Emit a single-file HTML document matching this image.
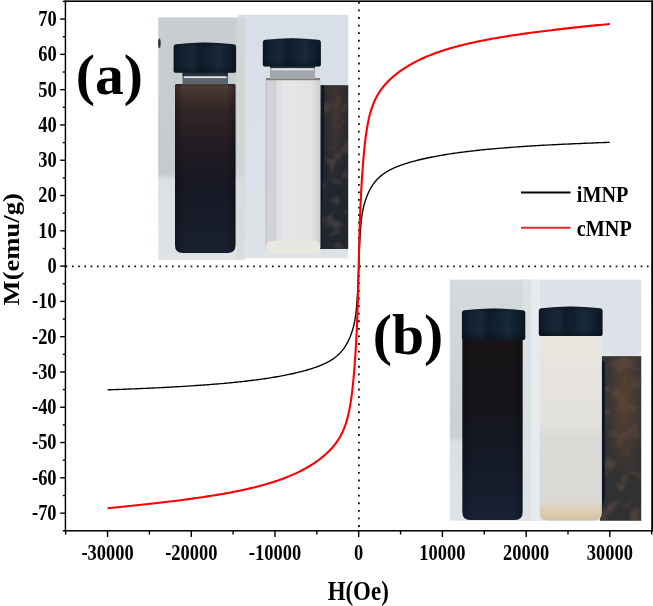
<!DOCTYPE html>
<html><head><meta charset="utf-8"><style>
html,body{margin:0;padding:0;background:#fff;}
svg{display:block;filter:blur(0.35px);}
</style></head><body>
<svg width="653" height="606" viewBox="0 0 653 606">
<rect width="653" height="606" fill="#fff"/>
<defs>
<linearGradient id="bgA1" x1="0" y1="0" x2="0" y2="1">
<stop offset="0" stop-color="#c9ced0"/><stop offset="0.645" stop-color="#c5cacc"/><stop offset="0.67" stop-color="#dcdfe3"/><stop offset="1" stop-color="#e0e3e6"/>
</linearGradient>
<linearGradient id="bgA2" x1="0" y1="0" x2="0" y2="1">
<stop offset="0" stop-color="#d9dfe7"/><stop offset="0.7" stop-color="#dbe1e8"/><stop offset="1" stop-color="#dfe3e8"/>
</linearGradient>
<linearGradient id="vialA" x1="0" y1="0" x2="0" y2="1">
<stop offset="0" stop-color="#342622"/><stop offset="0.015" stop-color="#4e3c35"/><stop offset="0.05" stop-color="#45342e"/><stop offset="0.15" stop-color="#332628"/><stop offset="0.35" stop-color="#231c22"/><stop offset="0.6" stop-color="#171824"/><stop offset="1" stop-color="#19202e"/>
</linearGradient>
<linearGradient id="edgeH" x1="0" y1="0" x2="1" y2="0">
<stop offset="0" stop-color="#000" stop-opacity="0.3"/><stop offset="0.15" stop-color="#000" stop-opacity="0"/><stop offset="0.85" stop-color="#000" stop-opacity="0"/><stop offset="1" stop-color="#000" stop-opacity="0.3"/>
</linearGradient>
<linearGradient id="clearA" x1="0" y1="0" x2="1" y2="0">
<stop offset="0" stop-color="#c4c4c8"/><stop offset="0.05" stop-color="#d2d2d6"/><stop offset="0.15" stop-color="#d4d4d8"/><stop offset="0.17" stop-color="#c6c6ca"/><stop offset="0.2" stop-color="#dcdcdf"/><stop offset="0.35" stop-color="#e6e6e8"/><stop offset="0.85" stop-color="#e2e2e4"/><stop offset="1" stop-color="#cdcdd0"/>
</linearGradient>
<linearGradient id="bgB1" x1="0" y1="0" x2="0" y2="1">
<stop offset="0" stop-color="#d5dadc"/><stop offset="0.65" stop-color="#cbd0d3"/><stop offset="0.675" stop-color="#dce0e3"/><stop offset="1" stop-color="#e0e3e6"/>
</linearGradient>
<linearGradient id="bgB2" x1="0" y1="0" x2="0" y2="1">
<stop offset="0" stop-color="#dde2ea"/><stop offset="1" stop-color="#e0e4ea"/>
</linearGradient>
<linearGradient id="vialB" x1="0" y1="0" x2="0" y2="1">
<stop offset="0" stop-color="#181416"/><stop offset="0.35" stop-color="#151419"/><stop offset="0.7" stop-color="#141a28"/><stop offset="1" stop-color="#182234"/>
</linearGradient>
<linearGradient id="milkB" x1="0" y1="0" x2="0" y2="1">
<stop offset="0" stop-color="#e8e6df"/><stop offset="0.5" stop-color="#e3e1db"/><stop offset="0.56" stop-color="#dadad7"/><stop offset="0.9" stop-color="#d9d8d4"/><stop offset="0.94" stop-color="#ddd0b8"/><stop offset="1" stop-color="#d4c0a0"/>
</linearGradient>
<linearGradient id="magA" x1="0" y1="0" x2="1" y2="0">
<stop offset="0" stop-color="#131a2c"/><stop offset="0.15" stop-color="#1f2431"/><stop offset="0.5" stop-color="#2a2c33"/><stop offset="1" stop-color="#2c2d33"/>
</linearGradient>
<linearGradient id="magB" x1="0" y1="0" x2="1" y2="0">
<stop offset="0" stop-color="#141b2e"/><stop offset="0.12" stop-color="#272a34"/><stop offset="0.5" stop-color="#38322f"/><stop offset="1" stop-color="#33302f"/>
</linearGradient>
<radialGradient id="rustA" cx="0.6" cy="0.15" r="0.5">
<stop offset="0" stop-color="#5e4634" stop-opacity="0.55"/><stop offset="1" stop-color="#5e4634" stop-opacity="0"/>
</radialGradient>
<radialGradient id="rustB" cx="0.6" cy="0.25" r="0.55">
<stop offset="0" stop-color="#6a4a34" stop-opacity="0.7"/><stop offset="1" stop-color="#6a4a34" stop-opacity="0.1"/>
</radialGradient>
<linearGradient id="capG" x1="0" y1="0" x2="1" y2="0">
<stop offset="0" stop-color="#0c1622"/><stop offset="0.12" stop-color="#122030"/><stop offset="0.3" stop-color="#172838"/><stop offset="0.42" stop-color="#0f1c2a"/><stop offset="0.55" stop-color="#112030"/><stop offset="0.72" stop-color="#182a3a"/><stop offset="0.88" stop-color="#111e2d"/><stop offset="1" stop-color="#0c1622"/>
</linearGradient>
<linearGradient id="capV" x1="0" y1="0" x2="0" y2="1">
<stop offset="0" stop-color="#000" stop-opacity="0.25"/><stop offset="0.15" stop-color="#000" stop-opacity="0"/><stop offset="0.75" stop-color="#000" stop-opacity="0"/><stop offset="1" stop-color="#000" stop-opacity="0.3"/>
</linearGradient>
<filter id="tex" x="0" y="0" width="1" height="1">
<feTurbulence type="fractalNoise" baseFrequency="0.07" numOctaves="2" seed="5" result="n"/>
<feColorMatrix in="n" type="matrix" values="0 0 0 0 0.30  0 0 0 0 0.22  0 0 0 0 0.17  0 0 0 0.45 -0.22" result="c"/>
<feComposite in="c" in2="SourceGraphic" operator="in" result="m"/>
<feMerge><feMergeNode in="SourceGraphic"/><feMergeNode in="m"/></feMerge>
</filter>
</defs>
<!-- photo (a) right part -->
<rect x="238.4" y="14.8" width="109.8" height="243.5" fill="url(#bgA2)"/>
<rect x="317" y="85.2" width="31.2" height="163.8" fill="#23272e" filter="url(#tex)"/>
<rect x="317" y="85.2" width="31.2" height="163.8" fill="url(#rustA)"/>
<path d="M321.5,85.2 L324.5,85.2 L324,140 L322.5,200 L321.5,249 L316.5,249 L317,225 L319.5,160 Z" fill="#111829"/>
<path d="M265.3,79.5 Q265.3,78 266.8,78 H319.0 Q320.5,78 320.5,79.5 V247 Q320.5,254 313.5,254 H272.3 Q265.3,254 265.3,247 Z" fill="url(#clearA)"/>
<rect x="266" y="241" width="54" height="13" rx="5" fill="#e9e7e2"/>
<rect x="266" y="78" width="54" height="2.2" fill="#8c7a70"/>
<rect x="270" y="64" width="45" height="15" fill="#a2a7ad"/>
<rect x="270" y="64" width="45" height="4" fill="#2a3440"/>
<rect x="271.5" y="68.5" width="42" height="1.8" fill="#e4e6e8"/>
<path d="M262.8,42.8 Q262.8,39.8 265.8,39.8 Q291.85,36.599999999999994 317.9,39.8 Q320.9,39.8 320.9,42.8 V64.4 Q320.9,66.4 318.9,66.4 H264.8 Q262.8,66.4 262.8,64.4 Z" fill="url(#capG)"/><path d="M262.8,42.8 Q262.8,39.8 265.8,39.8 Q291.85,36.599999999999994 317.9,39.8 Q320.9,39.8 320.9,42.8 V64.4 Q320.9,66.4 318.9,66.4 H264.8 Q262.8,66.4 262.8,64.4 Z" fill="url(#capV)"/>
<!-- photo (a) left part -->
<rect x="158.2" y="17.4" width="86.6" height="242.5" fill="url(#bgA1)"/>
<rect x="236.5" y="17.4" width="8.3" height="242.5" fill="#d6dadc" opacity="0.7"/>
<ellipse cx="159.4" cy="43.2" rx="1.3" ry="4.8" fill="#2e3236"/>
<path d="M175,85.5 Q175,84 176.5,84 H234.0 Q235.5,84 235.5,85.5 V245 Q235.5,253 227.5,253 H183 Q175,253 175,245 Z" fill="url(#vialA)"/>
<path d="M175,85.5 Q175,84 176.5,84 H234.0 Q235.5,84 235.5,85.5 V245 Q235.5,253 227.5,253 H183 Q175,253 175,245 Z" fill="url(#edgeH)"/>
<rect x="182.5" y="72" width="45.5" height="12.5" fill="#5c636b"/>
<rect x="182.5" y="72" width="45.5" height="4" fill="#26303a"/>
<rect x="184" y="76.3" width="42.5" height="1.8" fill="#e0e2e4"/>
<path d="M173.6,47.2 Q173.6,44.2 176.6,44.2 Q204.85,41.0 233.1,44.2 Q236.1,44.2 236.1,47.2 V70.8 Q236.1,72.8 234.1,72.8 H175.6 Q173.6,72.8 173.6,70.8 Z" fill="url(#capG)"/><path d="M173.6,47.2 Q173.6,44.2 176.6,44.2 Q204.85,41.0 233.1,44.2 Q236.1,44.2 236.1,47.2 V70.8 Q236.1,72.8 234.1,72.8 H175.6 Q173.6,72.8 173.6,70.8 Z" fill="url(#capV)"/>
<!-- photo (b) right part -->
<rect x="531" y="279.7" width="110.2" height="241" fill="url(#bgB2)"/>
<rect x="531" y="279.7" width="9" height="241" fill="#e7ebef"/>
<rect x="600" y="356.2" width="41.2" height="164.5" fill="#2c2e33" filter="url(#tex)"/>
<rect x="600" y="356.2" width="41.2" height="164.5" fill="url(#rustB)"/>
<path d="M600,360 L605,362 L605,500 L602,508 L600,508 Z" fill="#101729"/>
<path d="M539.7,338 Q539.7,331 546.7,331 H594.9 Q601.9,331 601.9,338 V512.5 Q601.9,520.5 593.9,520.5 H547.7 Q539.7,520.5 539.7,512.5 Z" fill="url(#milkB)"/>
<path d="M538.8,311.2 Q538.8,308.2 541.8,308.2 Q570.7,305.0 599.6,308.2 Q602.6,308.2 602.6,311.2 V334.0 Q602.6,336.0 600.6,336.0 H540.8 Q538.8,336.0 538.8,334.0 Z" fill="url(#capG)"/><path d="M538.8,311.2 Q538.8,308.2 541.8,308.2 Q570.7,305.0 599.6,308.2 Q602.6,308.2 602.6,311.2 V334.0 Q602.6,336.0 600.6,336.0 H540.8 Q538.8,336.0 538.8,334.0 Z" fill="url(#capV)"/>
<!-- photo (b) left part -->
<rect x="449.8" y="279.6" width="81.2" height="241.1" fill="url(#bgB1)"/>
<rect x="522.5" y="279.6" width="8.5" height="241.1" fill="#dde2e5" opacity="0.8"/>
<path d="M462.4,340 Q462.4,334 468.4,334 H516.6 Q522.6,334 522.6,340 V512 Q522.6,520 514.6,520 H470.4 Q462.4,520 462.4,512 Z" fill="url(#vialB)"/>
<path d="M462.4,340 Q462.4,334 468.4,334 H516.6 Q522.6,334 522.6,340 V512 Q522.6,520 514.6,520 H470.4 Q462.4,520 462.4,512 Z" fill="url(#edgeH)"/>
<path d="M461.9,313.2 Q461.9,310.2 464.9,310.2 Q493.59999999999997,307.0 522.3,310.2 Q525.3,310.2 525.3,313.2 V338.0 Q525.3,340.0 523.3,340.0 H463.9 Q461.9,340.0 461.9,338.0 Z" fill="url(#capG)"/><path d="M461.9,313.2 Q461.9,310.2 464.9,310.2 Q493.59999999999997,307.0 522.3,310.2 Q525.3,310.2 525.3,313.2 V338.0 Q525.3,340.0 523.3,340.0 H463.9 Q461.9,340.0 461.9,338.0 Z" fill="url(#capV)"/>

<line x1="65.7" y1="266.4" x2="651" y2="266.4" stroke="#000" stroke-width="1.7" stroke-dasharray="1.6 4.65"/>
<line x1="358.9" y1="1.92" x2="358.9" y2="530" stroke="#000" stroke-width="1.7" stroke-dasharray="1.8 5.782"/>
<path d="M107.54,389.88 L110.05,389.79 L112.54,389.70 L115.02,389.60 L117.49,389.51 L119.93,389.42 L122.37,389.32 L124.79,389.23 L127.19,389.13 L129.58,389.04 L131.95,388.94 L134.31,388.84 L136.66,388.74 L138.99,388.64 L141.30,388.54 L143.60,388.44 L145.89,388.34 L148.16,388.23 L150.42,388.13 L152.66,388.02 L154.89,387.92 L157.10,387.81 L159.30,387.70 L161.48,387.59 L163.65,387.48 L165.81,387.37 L167.95,387.25 L170.08,387.14 L172.19,387.03 L174.29,386.91 L176.37,386.79 L178.44,386.67 L180.49,386.55 L182.54,386.43 L184.56,386.31 L186.58,386.18 L188.57,386.06 L190.56,385.93 L192.53,385.80 L194.49,385.67 L196.43,385.54 L198.36,385.41 L200.28,385.28 L202.18,385.14 L204.07,385.00 L205.94,384.86 L207.80,384.72 L209.65,384.58 L211.48,384.44 L213.30,384.29 L215.11,384.15 L216.90,384.00 L218.68,383.85 L220.45,383.70 L222.20,383.55 L223.94,383.39 L225.66,383.23 L227.37,383.08 L229.07,382.92 L230.76,382.75 L232.43,382.59 L234.09,382.42 L235.74,382.26 L237.37,382.09 L238.99,381.92 L240.60,381.74 L242.19,381.57 L243.77,381.39 L245.34,381.21 L246.89,381.03 L248.44,380.85 L249.96,380.66 L251.48,380.48 L252.99,380.29 L254.48,380.10 L255.95,379.91 L257.42,379.71 L258.87,379.52 L260.31,379.32 L261.74,379.12 L263.16,378.92 L264.56,378.71 L265.95,378.51 L267.33,378.30 L268.69,378.09 L270.05,377.88 L271.39,377.66 L272.72,377.45 L274.03,377.23 L275.34,377.01 L276.63,376.79 L277.91,376.56 L279.18,376.34 L280.44,376.11 L281.68,375.88 L282.91,375.65 L284.13,375.41 L285.34,375.18 L286.54,374.94 L287.72,374.70 L288.90,374.46 L290.06,374.21 L291.21,373.97 L292.35,373.72 L293.47,373.47 L294.59,373.22 L295.69,372.96 L296.78,372.71 L297.86,372.45 L298.93,372.19 L299.99,371.92 L301.04,371.66 L302.07,371.39 L303.10,371.12 L304.11,370.85 L305.11,370.57 L306.10,370.30 L307.08,370.02 L308.05,369.73 L309.01,369.45 L309.95,369.16 L310.89,368.87 L311.81,368.58 L312.73,368.28 L313.63,367.98 L314.52,367.68 L315.40,367.37 L316.28,367.06 L317.14,366.75 L317.99,366.43 L318.83,366.11 L319.65,365.79 L320.47,365.46 L321.28,365.13 L322.08,364.79 L322.87,364.45 L323.64,364.11 L324.41,363.76 L325.17,363.40 L325.91,363.04 L326.65,362.67 L327.38,362.30 L328.09,361.92 L328.80,361.53 L329.50,361.14 L330.19,360.74 L330.86,360.34 L331.53,359.92 L332.19,359.50 L332.84,359.07 L333.47,358.64 L334.10,358.19 L334.72,357.74 L335.33,357.27 L335.93,356.80 L336.53,356.32 L337.11,355.83 L337.68,355.32 L338.24,354.81 L338.80,354.29 L339.34,353.75 L339.88,353.21 L340.41,352.65 L340.92,352.08 L341.43,351.50 L341.93,350.91 L342.43,350.31 L342.91,349.69 L343.38,349.06 L343.85,348.43 L344.31,347.78 L344.75,347.12 L345.19,346.44 L345.63,345.76 L346.05,345.06 L346.46,344.36 L346.87,343.64 L347.27,342.91 L347.66,342.17 L348.04,341.43 L348.41,340.67 L348.78,339.90 L349.14,339.12 L349.49,338.33 L349.83,337.53 L350.17,336.73 L350.49,335.91 L350.81,335.08 L351.12,334.24 L351.43,333.39 L351.72,332.53 L352.01,331.66 L352.30,330.78 L352.57,329.88 L352.84,328.96 L353.10,328.04 L353.35,327.09 L353.60,326.13 L353.84,325.14 L354.07,324.13 L354.30,323.10 L354.52,322.03 L354.73,320.94 L354.93,319.81 L355.13,318.64 L355.33,317.43 L355.51,316.18 L355.69,314.88 L355.87,313.52 L356.03,312.11 L356.20,310.65 L356.35,309.13 L356.50,307.55 L356.64,305.91 L356.78,304.22 L356.91,302.48 L357.04,300.70 L357.16,298.89 L357.28,297.04 L357.39,295.18 L357.49,293.32 L357.59,291.46 L357.69,289.62 L357.78,287.80 L357.86,286.03 L357.94,284.30 L358.02,282.64 L358.09,281.04 L358.15,279.52 L358.21,278.07 L358.27,276.71 L358.32,275.43 L358.37,274.24 L358.42,273.15 L358.46,272.14 L358.50,271.22 L358.53,270.38 L358.56,269.64 L358.59,268.97 L358.61,268.39 L358.63,267.88 L358.65,267.45 L358.66,267.09 L358.67,266.79 L358.68,266.55 L358.69,266.38 L358.69,266.25 L358.70,266.16 L358.70,266.12 L358.70,266.10 L358.70,266.10 L358.70,266.08 L358.70,266.04 L358.71,265.95 L358.71,265.82 L358.72,265.65 L358.73,265.41 L358.74,265.11 L358.75,264.75 L358.77,264.32 L358.79,263.81 L358.81,263.23 L358.84,262.56 L358.87,261.82 L358.90,260.98 L358.94,260.06 L358.98,259.05 L359.03,257.96 L359.08,256.77 L359.13,255.49 L359.19,254.13 L359.25,252.68 L359.31,251.16 L359.38,249.56 L359.46,247.90 L359.54,246.17 L359.62,244.40 L359.71,242.58 L359.81,240.74 L359.91,238.88 L360.01,237.02 L360.12,235.16 L360.24,233.31 L360.36,231.50 L360.49,229.72 L360.62,227.98 L360.76,226.29 L360.90,224.65 L361.05,223.07 L361.20,221.55 L361.37,220.09 L361.53,218.68 L361.71,217.32 L361.89,216.02 L362.07,214.77 L362.27,213.56 L362.47,212.39 L362.67,211.26 L362.88,210.17 L363.10,209.10 L363.33,208.07 L363.56,207.06 L363.80,206.07 L364.05,205.11 L364.30,204.16 L364.56,203.24 L364.83,202.32 L365.10,201.42 L365.39,200.54 L365.68,199.67 L365.97,198.81 L366.28,197.96 L366.59,197.12 L366.91,196.29 L367.23,195.47 L367.57,194.67 L367.91,193.87 L368.26,193.08 L368.62,192.30 L368.99,191.53 L369.36,190.77 L369.74,190.03 L370.13,189.29 L370.53,188.56 L370.94,187.84 L371.35,187.14 L371.77,186.44 L372.21,185.76 L372.65,185.08 L373.09,184.42 L373.55,183.77 L374.02,183.14 L374.49,182.51 L374.97,181.89 L375.47,181.29 L375.97,180.70 L376.48,180.12 L376.99,179.55 L377.52,178.99 L378.06,178.45 L378.60,177.91 L379.16,177.39 L379.72,176.88 L380.29,176.37 L380.87,175.88 L381.47,175.40 L382.07,174.93 L382.68,174.46 L383.30,174.01 L383.93,173.56 L384.56,173.13 L385.21,172.70 L385.87,172.28 L386.54,171.86 L387.21,171.46 L387.90,171.06 L388.60,170.67 L389.31,170.28 L390.02,169.90 L390.75,169.53 L391.49,169.16 L392.23,168.80 L392.99,168.44 L393.76,168.09 L394.53,167.75 L395.32,167.41 L396.12,167.07 L396.93,166.74 L397.75,166.41 L398.57,166.09 L399.41,165.77 L400.26,165.45 L401.12,165.14 L402.00,164.83 L402.88,164.52 L403.77,164.22 L404.67,163.92 L405.59,163.62 L406.51,163.33 L407.45,163.04 L408.39,162.75 L409.35,162.47 L410.32,162.18 L411.30,161.90 L412.29,161.63 L413.29,161.35 L414.30,161.08 L415.33,160.81 L416.36,160.54 L417.41,160.28 L418.47,160.01 L419.54,159.75 L420.62,159.49 L421.71,159.24 L422.81,158.98 L423.93,158.73 L425.05,158.48 L426.19,158.23 L427.34,157.99 L428.50,157.74 L429.68,157.50 L430.86,157.26 L432.06,157.02 L433.27,156.79 L434.49,156.55 L435.72,156.32 L436.96,156.09 L438.22,155.86 L439.49,155.64 L440.77,155.41 L442.06,155.19 L443.37,154.97 L444.68,154.75 L446.01,154.54 L447.35,154.32 L448.71,154.11 L450.07,153.90 L451.45,153.69 L452.84,153.49 L454.24,153.28 L455.66,153.08 L457.09,152.88 L458.53,152.68 L459.98,152.49 L461.45,152.29 L462.92,152.10 L464.41,151.91 L465.92,151.72 L467.44,151.54 L468.96,151.35 L470.51,151.17 L472.06,150.99 L473.63,150.81 L475.21,150.63 L476.80,150.46 L478.41,150.28 L480.03,150.11 L481.66,149.94 L483.31,149.78 L484.97,149.61 L486.64,149.45 L488.33,149.28 L490.03,149.12 L491.74,148.97 L493.46,148.81 L495.20,148.65 L496.95,148.50 L498.72,148.35 L500.50,148.20 L502.29,148.05 L504.10,147.91 L505.92,147.76 L507.75,147.62 L509.60,147.48 L511.46,147.34 L513.33,147.20 L515.22,147.06 L517.12,146.92 L519.04,146.79 L520.97,146.66 L522.91,146.53 L524.87,146.40 L526.84,146.27 L528.83,146.14 L530.82,146.02 L532.84,145.89 L534.86,145.77 L536.91,145.65 L538.96,145.53 L541.03,145.41 L543.11,145.29 L545.21,145.17 L547.32,145.06 L549.45,144.95 L551.59,144.83 L553.75,144.72 L555.92,144.61 L558.10,144.50 L560.30,144.39 L562.51,144.28 L564.74,144.18 L566.98,144.07 L569.24,143.97 L571.51,143.86 L573.80,143.76 L576.10,143.66 L578.41,143.56 L580.74,143.46 L583.09,143.36 L585.45,143.26 L587.82,143.16 L590.21,143.07 L592.61,142.97 L595.03,142.88 L597.47,142.78 L599.91,142.69 L602.38,142.60 L604.86,142.50 L607.35,142.41 L609.86,142.32" fill="none" stroke="#000" stroke-width="1.35" stroke-linejoin="round"/>
<path d="M107.54,508.26 L110.05,508.01 L112.54,507.77 L115.02,507.53 L117.49,507.28 L119.93,507.04 L122.37,506.79 L124.79,506.55 L127.19,506.30 L129.58,506.05 L131.95,505.81 L134.31,505.56 L136.66,505.31 L138.99,505.06 L141.30,504.81 L143.60,504.57 L145.89,504.32 L148.16,504.07 L150.42,503.81 L152.66,503.56 L154.89,503.31 L157.10,503.06 L159.30,502.80 L161.48,502.55 L163.65,502.29 L165.81,502.03 L167.95,501.78 L170.08,501.52 L172.19,501.26 L174.29,501.00 L176.37,500.73 L178.44,500.47 L180.49,500.21 L182.54,499.94 L184.56,499.67 L186.58,499.40 L188.57,499.13 L190.56,498.86 L192.53,498.59 L194.49,498.32 L196.43,498.04 L198.36,497.76 L200.28,497.48 L202.18,497.20 L204.07,496.92 L205.94,496.64 L207.80,496.35 L209.65,496.06 L211.48,495.77 L213.30,495.48 L215.11,495.18 L216.90,494.89 L218.68,494.59 L220.45,494.29 L222.20,493.98 L223.94,493.68 L225.66,493.37 L227.37,493.05 L229.07,492.74 L230.76,492.42 L232.43,492.10 L234.09,491.78 L235.74,491.46 L237.37,491.13 L238.99,490.80 L240.60,490.46 L242.19,490.13 L243.77,489.78 L245.34,489.44 L246.89,489.09 L248.44,488.74 L249.96,488.39 L251.48,488.03 L252.99,487.67 L254.48,487.30 L255.95,486.93 L257.42,486.56 L258.87,486.18 L260.31,485.80 L261.74,485.42 L263.16,485.03 L264.56,484.64 L265.95,484.24 L267.33,483.84 L268.69,483.44 L270.05,483.03 L271.39,482.61 L272.72,482.19 L274.03,481.77 L275.34,481.34 L276.63,480.91 L277.91,480.48 L279.18,480.04 L280.44,479.59 L281.68,479.14 L282.91,478.69 L284.13,478.23 L285.34,477.77 L286.54,477.30 L287.72,476.83 L288.90,476.35 L290.06,475.87 L291.21,475.38 L292.35,474.89 L293.47,474.39 L294.59,473.89 L295.69,473.39 L296.78,472.88 L297.86,472.37 L298.93,471.85 L299.99,471.32 L301.04,470.79 L302.07,470.26 L303.10,469.72 L304.11,469.18 L305.11,468.64 L306.10,468.09 L307.08,467.53 L308.05,466.97 L309.01,466.40 L309.95,465.84 L310.89,465.26 L311.81,464.68 L312.73,464.10 L313.63,463.51 L314.52,462.92 L315.40,462.32 L316.28,461.72 L317.14,461.11 L317.99,460.50 L318.83,459.88 L319.65,459.26 L320.47,458.63 L321.28,458.00 L322.08,457.36 L322.87,456.72 L323.64,456.07 L324.41,455.41 L325.17,454.75 L325.91,454.08 L326.65,453.41 L327.38,452.73 L328.09,452.04 L328.80,451.34 L329.50,450.64 L330.19,449.93 L330.86,449.21 L331.53,448.48 L332.19,447.74 L332.84,447.00 L333.47,446.24 L334.10,445.47 L334.72,444.69 L335.33,443.90 L335.93,443.09 L336.53,442.28 L337.11,441.45 L337.68,440.60 L338.24,439.74 L338.80,438.86 L339.34,437.96 L339.88,437.05 L340.41,436.11 L340.92,435.16 L341.43,434.18 L341.93,433.18 L342.43,432.15 L342.91,431.10 L343.38,430.02 L343.85,428.91 L344.31,427.76 L344.75,426.59 L345.19,425.38 L345.63,424.13 L346.05,422.84 L346.46,421.51 L346.87,420.13 L347.27,418.71 L347.66,417.23 L348.04,415.71 L348.41,414.13 L348.78,412.50 L349.14,410.81 L349.49,409.06 L349.83,407.24 L350.17,405.37 L350.49,403.42 L350.81,401.41 L351.12,399.34 L351.43,397.19 L351.72,394.98 L352.01,392.71 L352.30,390.36 L352.57,387.96 L352.84,385.49 L353.10,382.96 L353.35,380.38 L353.60,377.75 L353.84,375.07 L354.07,372.35 L354.30,369.59 L354.52,366.79 L354.73,363.97 L354.93,361.12 L355.13,358.26 L355.33,355.38 L355.51,352.49 L355.69,349.60 L355.87,346.71 L356.03,343.81 L356.20,340.92 L356.35,338.03 L356.50,335.15 L356.64,332.27 L356.78,329.40 L356.91,326.52 L357.04,323.64 L357.16,320.77 L357.28,317.89 L357.39,315.00 L357.49,312.12 L357.59,309.24 L357.69,306.37 L357.78,303.51 L357.86,300.69 L357.94,297.90 L358.02,295.17 L358.09,292.52 L358.15,289.94 L358.21,287.47 L358.27,285.12 L358.32,282.89 L358.37,280.79 L358.42,278.84 L358.46,277.04 L358.50,275.39 L358.53,273.88 L358.56,272.53 L358.59,271.33 L358.61,270.27 L358.63,269.35 L358.65,268.56 L358.66,267.90 L358.67,267.36 L358.68,266.93 L358.69,266.60 L358.69,266.37 L358.70,266.22 L358.70,266.13 L358.70,266.10 L358.70,266.10 L358.70,266.07 L358.70,265.98 L358.71,265.83 L358.71,265.60 L358.72,265.27 L358.73,264.84 L358.74,264.30 L358.75,263.64 L358.77,262.85 L358.79,261.93 L358.81,260.87 L358.84,259.67 L358.87,258.32 L358.90,256.81 L358.94,255.16 L358.98,253.36 L359.03,251.41 L359.08,249.31 L359.13,247.08 L359.19,244.73 L359.25,242.26 L359.31,239.68 L359.38,237.03 L359.46,234.30 L359.54,231.51 L359.62,228.69 L359.71,225.83 L359.81,222.96 L359.91,220.08 L360.01,217.20 L360.12,214.31 L360.24,211.43 L360.36,208.56 L360.49,205.68 L360.62,202.80 L360.76,199.93 L360.90,197.05 L361.05,194.17 L361.20,191.28 L361.37,188.39 L361.53,185.49 L361.71,182.60 L361.89,179.71 L362.07,176.82 L362.27,173.94 L362.47,171.08 L362.67,168.23 L362.88,165.41 L363.10,162.61 L363.33,159.85 L363.56,157.13 L363.80,154.45 L364.05,151.82 L364.30,149.24 L364.56,146.71 L364.83,144.24 L365.10,141.84 L365.39,139.49 L365.68,137.22 L365.97,135.01 L366.28,132.86 L366.59,130.79 L366.91,128.78 L367.23,126.83 L367.57,124.96 L367.91,123.14 L368.26,121.39 L368.62,119.70 L368.99,118.07 L369.36,116.49 L369.74,114.97 L370.13,113.49 L370.53,112.07 L370.94,110.69 L371.35,109.36 L371.77,108.07 L372.21,106.82 L372.65,105.61 L373.09,104.44 L373.55,103.29 L374.02,102.18 L374.49,101.10 L374.97,100.05 L375.47,99.02 L375.97,98.02 L376.48,97.04 L376.99,96.09 L377.52,95.15 L378.06,94.24 L378.60,93.34 L379.16,92.46 L379.72,91.60 L380.29,90.75 L380.87,89.92 L381.47,89.11 L382.07,88.30 L382.68,87.51 L383.30,86.73 L383.93,85.96 L384.56,85.20 L385.21,84.46 L385.87,83.72 L386.54,82.99 L387.21,82.27 L387.90,81.56 L388.60,80.86 L389.31,80.16 L390.02,79.47 L390.75,78.79 L391.49,78.12 L392.23,77.45 L392.99,76.79 L393.76,76.13 L394.53,75.48 L395.32,74.84 L396.12,74.20 L396.93,73.57 L397.75,72.94 L398.57,72.32 L399.41,71.70 L400.26,71.09 L401.12,70.48 L402.00,69.88 L402.88,69.28 L403.77,68.69 L404.67,68.10 L405.59,67.52 L406.51,66.94 L407.45,66.36 L408.39,65.80 L409.35,65.23 L410.32,64.67 L411.30,64.11 L412.29,63.56 L413.29,63.02 L414.30,62.48 L415.33,61.94 L416.36,61.41 L417.41,60.88 L418.47,60.35 L419.54,59.83 L420.62,59.32 L421.71,58.81 L422.81,58.31 L423.93,57.81 L425.05,57.31 L426.19,56.82 L427.34,56.33 L428.50,55.85 L429.68,55.37 L430.86,54.90 L432.06,54.43 L433.27,53.97 L434.49,53.51 L435.72,53.06 L436.96,52.61 L438.22,52.16 L439.49,51.72 L440.77,51.29 L442.06,50.86 L443.37,50.43 L444.68,50.01 L446.01,49.59 L447.35,49.17 L448.71,48.76 L450.07,48.36 L451.45,47.96 L452.84,47.56 L454.24,47.17 L455.66,46.78 L457.09,46.40 L458.53,46.02 L459.98,45.64 L461.45,45.27 L462.92,44.90 L464.41,44.53 L465.92,44.17 L467.44,43.81 L468.96,43.46 L470.51,43.11 L472.06,42.76 L473.63,42.42 L475.21,42.07 L476.80,41.74 L478.41,41.40 L480.03,41.07 L481.66,40.74 L483.31,40.42 L484.97,40.10 L486.64,39.78 L488.33,39.46 L490.03,39.15 L491.74,38.83 L493.46,38.52 L495.20,38.22 L496.95,37.91 L498.72,37.61 L500.50,37.31 L502.29,37.02 L504.10,36.72 L505.92,36.43 L507.75,36.14 L509.60,35.85 L511.46,35.56 L513.33,35.28 L515.22,35.00 L517.12,34.72 L519.04,34.44 L520.97,34.16 L522.91,33.88 L524.87,33.61 L526.84,33.34 L528.83,33.07 L530.82,32.80 L532.84,32.53 L534.86,32.26 L536.91,31.99 L538.96,31.73 L541.03,31.47 L543.11,31.20 L545.21,30.94 L547.32,30.68 L549.45,30.42 L551.59,30.17 L553.75,29.91 L555.92,29.65 L558.10,29.40 L560.30,29.14 L562.51,28.89 L564.74,28.64 L566.98,28.39 L569.24,28.13 L571.51,27.88 L573.80,27.63 L576.10,27.39 L578.41,27.14 L580.74,26.89 L583.09,26.64 L585.45,26.39 L587.82,26.15 L590.21,25.90 L592.61,25.65 L595.03,25.41 L597.47,25.16 L599.91,24.92 L602.38,24.67 L604.86,24.43 L607.35,24.19 L609.86,23.94" fill="none" stroke="#f00" stroke-width="2.1" stroke-linejoin="round"/>
<rect x="64.7" y="0.4" width="588.3" height="1.6" fill="#000"/>
<rect x="64.7" y="0.4" width="1.45" height="531.1" fill="#000"/>
<rect x="64.7" y="530.05" width="588.3" height="1.5" fill="#000"/>
<rect x="651.2" y="0.4" width="1.8" height="531.1" fill="#000"/>
<line x1="62.80" y1="530.78" x2="65.4" y2="530.78" stroke="#000" stroke-width="1.4"/>
<line x1="60.20" y1="513.13" x2="65.4" y2="513.13" stroke="#000" stroke-width="1.4"/>
<line x1="62.80" y1="495.49" x2="65.4" y2="495.49" stroke="#000" stroke-width="1.4"/>
<line x1="60.20" y1="477.84" x2="65.4" y2="477.84" stroke="#000" stroke-width="1.4"/>
<line x1="62.80" y1="460.20" x2="65.4" y2="460.20" stroke="#000" stroke-width="1.4"/>
<line x1="60.20" y1="442.55" x2="65.4" y2="442.55" stroke="#000" stroke-width="1.4"/>
<line x1="62.80" y1="424.91" x2="65.4" y2="424.91" stroke="#000" stroke-width="1.4"/>
<line x1="60.20" y1="407.26" x2="65.4" y2="407.26" stroke="#000" stroke-width="1.4"/>
<line x1="62.80" y1="389.62" x2="65.4" y2="389.62" stroke="#000" stroke-width="1.4"/>
<line x1="60.20" y1="371.97" x2="65.4" y2="371.97" stroke="#000" stroke-width="1.4"/>
<line x1="62.80" y1="354.33" x2="65.4" y2="354.33" stroke="#000" stroke-width="1.4"/>
<line x1="60.20" y1="336.68" x2="65.4" y2="336.68" stroke="#000" stroke-width="1.4"/>
<line x1="62.80" y1="319.04" x2="65.4" y2="319.04" stroke="#000" stroke-width="1.4"/>
<line x1="60.20" y1="301.39" x2="65.4" y2="301.39" stroke="#000" stroke-width="1.4"/>
<line x1="62.80" y1="283.75" x2="65.4" y2="283.75" stroke="#000" stroke-width="1.4"/>
<line x1="60.20" y1="266.10" x2="65.4" y2="266.10" stroke="#000" stroke-width="1.4"/>
<line x1="62.80" y1="248.46" x2="65.4" y2="248.46" stroke="#000" stroke-width="1.4"/>
<line x1="60.20" y1="230.81" x2="65.4" y2="230.81" stroke="#000" stroke-width="1.4"/>
<line x1="62.80" y1="213.17" x2="65.4" y2="213.17" stroke="#000" stroke-width="1.4"/>
<line x1="60.20" y1="195.52" x2="65.4" y2="195.52" stroke="#000" stroke-width="1.4"/>
<line x1="62.80" y1="177.88" x2="65.4" y2="177.88" stroke="#000" stroke-width="1.4"/>
<line x1="60.20" y1="160.23" x2="65.4" y2="160.23" stroke="#000" stroke-width="1.4"/>
<line x1="62.80" y1="142.59" x2="65.4" y2="142.59" stroke="#000" stroke-width="1.4"/>
<line x1="60.20" y1="124.94" x2="65.4" y2="124.94" stroke="#000" stroke-width="1.4"/>
<line x1="62.80" y1="107.30" x2="65.4" y2="107.30" stroke="#000" stroke-width="1.4"/>
<line x1="60.20" y1="89.65" x2="65.4" y2="89.65" stroke="#000" stroke-width="1.4"/>
<line x1="62.80" y1="72.01" x2="65.4" y2="72.01" stroke="#000" stroke-width="1.4"/>
<line x1="60.20" y1="54.36" x2="65.4" y2="54.36" stroke="#000" stroke-width="1.4"/>
<line x1="62.80" y1="36.72" x2="65.4" y2="36.72" stroke="#000" stroke-width="1.4"/>
<line x1="60.20" y1="19.07" x2="65.4" y2="19.07" stroke="#000" stroke-width="1.4"/>
<line x1="62.80" y1="1.43" x2="65.4" y2="1.43" stroke="#000" stroke-width="1.4"/>
<line x1="65.68" y1="530.8" x2="65.68" y2="534.60" stroke="#000" stroke-width="1.4"/>
<line x1="107.54" y1="530.8" x2="107.54" y2="537.00" stroke="#000" stroke-width="1.4"/>
<line x1="149.40" y1="530.8" x2="149.40" y2="534.60" stroke="#000" stroke-width="1.4"/>
<line x1="191.26" y1="530.8" x2="191.26" y2="537.00" stroke="#000" stroke-width="1.4"/>
<line x1="233.12" y1="530.8" x2="233.12" y2="534.60" stroke="#000" stroke-width="1.4"/>
<line x1="274.98" y1="530.8" x2="274.98" y2="537.00" stroke="#000" stroke-width="1.4"/>
<line x1="316.84" y1="530.8" x2="316.84" y2="534.60" stroke="#000" stroke-width="1.4"/>
<line x1="358.70" y1="530.8" x2="358.70" y2="537.00" stroke="#000" stroke-width="1.4"/>
<line x1="400.56" y1="530.8" x2="400.56" y2="534.60" stroke="#000" stroke-width="1.4"/>
<line x1="442.42" y1="530.8" x2="442.42" y2="537.00" stroke="#000" stroke-width="1.4"/>
<line x1="484.28" y1="530.8" x2="484.28" y2="534.60" stroke="#000" stroke-width="1.4"/>
<line x1="526.14" y1="530.8" x2="526.14" y2="537.00" stroke="#000" stroke-width="1.4"/>
<line x1="568.00" y1="530.8" x2="568.00" y2="534.60" stroke="#000" stroke-width="1.4"/>
<line x1="609.86" y1="530.8" x2="609.86" y2="537.00" stroke="#000" stroke-width="1.4"/>
<line x1="651.72" y1="530.8" x2="651.72" y2="534.60" stroke="#000" stroke-width="1.4"/>
<text transform="translate(56.6,520.03) scale(0.82,1)" text-anchor="end" font-family='"Liberation Serif", serif' font-weight="bold" font-size="22.5">-70</text>
<text transform="translate(56.6,484.74) scale(0.82,1)" text-anchor="end" font-family='"Liberation Serif", serif' font-weight="bold" font-size="22.5">-60</text>
<text transform="translate(56.6,449.45) scale(0.82,1)" text-anchor="end" font-family='"Liberation Serif", serif' font-weight="bold" font-size="22.5">-50</text>
<text transform="translate(56.6,414.16) scale(0.82,1)" text-anchor="end" font-family='"Liberation Serif", serif' font-weight="bold" font-size="22.5">-40</text>
<text transform="translate(56.6,378.87) scale(0.82,1)" text-anchor="end" font-family='"Liberation Serif", serif' font-weight="bold" font-size="22.5">-30</text>
<text transform="translate(56.6,343.58) scale(0.82,1)" text-anchor="end" font-family='"Liberation Serif", serif' font-weight="bold" font-size="22.5">-20</text>
<text transform="translate(56.6,308.29) scale(0.82,1)" text-anchor="end" font-family='"Liberation Serif", serif' font-weight="bold" font-size="22.5">-10</text>
<text transform="translate(56.6,273.00) scale(0.82,1)" text-anchor="end" font-family='"Liberation Serif", serif' font-weight="bold" font-size="22.5">0</text>
<text transform="translate(56.6,237.71) scale(0.82,1)" text-anchor="end" font-family='"Liberation Serif", serif' font-weight="bold" font-size="22.5">10</text>
<text transform="translate(56.6,202.42) scale(0.82,1)" text-anchor="end" font-family='"Liberation Serif", serif' font-weight="bold" font-size="22.5">20</text>
<text transform="translate(56.6,167.13) scale(0.82,1)" text-anchor="end" font-family='"Liberation Serif", serif' font-weight="bold" font-size="22.5">30</text>
<text transform="translate(56.6,131.84) scale(0.82,1)" text-anchor="end" font-family='"Liberation Serif", serif' font-weight="bold" font-size="22.5">40</text>
<text transform="translate(56.6,96.55) scale(0.82,1)" text-anchor="end" font-family='"Liberation Serif", serif' font-weight="bold" font-size="22.5">50</text>
<text transform="translate(56.6,61.26) scale(0.82,1)" text-anchor="end" font-family='"Liberation Serif", serif' font-weight="bold" font-size="22.5">60</text>
<text transform="translate(56.6,25.97) scale(0.82,1)" text-anchor="end" font-family='"Liberation Serif", serif' font-weight="bold" font-size="22.5">70</text>
<text transform="translate(107.54,560.2) scale(0.82,1)" text-anchor="middle" font-family='"Liberation Serif", serif' font-weight="bold" font-size="22.5">-30000</text>
<text transform="translate(191.26,560.2) scale(0.82,1)" text-anchor="middle" font-family='"Liberation Serif", serif' font-weight="bold" font-size="22.5">-20000</text>
<text transform="translate(274.98,560.2) scale(0.82,1)" text-anchor="middle" font-family='"Liberation Serif", serif' font-weight="bold" font-size="22.5">-10000</text>
<text transform="translate(358.70,560.2) scale(0.82,1)" text-anchor="middle" font-family='"Liberation Serif", serif' font-weight="bold" font-size="22.5">0</text>
<text transform="translate(442.42,560.2) scale(0.82,1)" text-anchor="middle" font-family='"Liberation Serif", serif' font-weight="bold" font-size="22.5">10000</text>
<text transform="translate(526.14,560.2) scale(0.82,1)" text-anchor="middle" font-family='"Liberation Serif", serif' font-weight="bold" font-size="22.5">20000</text>
<text transform="translate(609.86,560.2) scale(0.82,1)" text-anchor="middle" font-family='"Liberation Serif", serif' font-weight="bold" font-size="22.5">30000</text>
<text transform="translate(358.2,600.2) scale(0.866,1)" text-anchor="middle" font-family='"Liberation Serif", serif' font-weight="bold" font-size="26.5">H(Oe)</text>
<text transform="translate(19.4,249.3) rotate(-90) scale(1,0.85)" text-anchor="middle" font-family='"Liberation Serif", serif' font-weight="bold" font-size="26.6">M(emu/g)</text>
<text transform="translate(75.8,93.6) scale(1.03,1)" font-family='"Liberation Serif", serif' font-weight="bold" font-size="56">(a)</text>
<text transform="translate(372.8,353.6) scale(1.03,1)" font-family='"Liberation Serif", serif' font-weight="bold" font-size="56">(b)</text>
<line x1="521" y1="192.6" x2="570.5" y2="192.6" stroke="#000" stroke-width="2"/>
<line x1="521" y1="227.8" x2="570.5" y2="227.8" stroke="#e8262b" stroke-width="2"/>
<text transform="translate(576.8,201.6) scale(0.86,1)" font-family='"Liberation Serif", serif' font-weight="bold" font-size="23.5">iMNP</text>
<text transform="translate(576.8,236.4) scale(0.86,1)" font-family='"Liberation Serif", serif' font-weight="bold" font-size="23.5">cMNP</text>
</svg>
</body></html>
